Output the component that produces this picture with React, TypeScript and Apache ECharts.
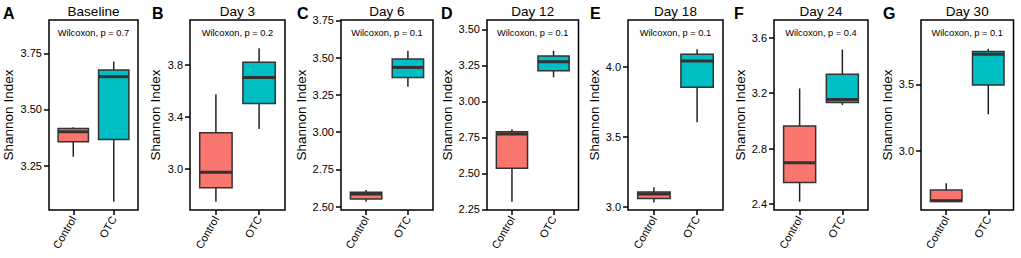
import React, { useEffect, useRef } from "react";
import * as echarts from "echarts";

const categories = ["Control", "OTC"];
const panelLetters = ["A", "B", "C", "D", "E", "F", "G"];
const panelTitles = ["Baseline", "Day 3", "Day 6", "Day 12", "Day 18", "Day 24", "Day 30"];
const pValues = ["0.7", "0.2", "0.1", "0.1", "0.1", "0.4", "0.1"];

// [min, Q1, median, Q3, max]
const controlStats = [
  [3.29, 3.357, 3.401, 3.416, 3.421],
  [2.745, 2.853, 2.972, 3.277, 3.574],
  [2.534, 2.552, 2.585, 2.597, 2.612],
  [2.303, 2.535, 2.773, 2.789, 2.806],
  [3.029, 3.059, 3.091, 3.105, 3.139],
  [2.417, 2.556, 2.698, 2.964, 3.234],
  [2.62, 2.622, 2.628, 2.707, 2.758],
];
const otcStats = [
  [3.09, 3.367, 3.646, 3.676, 3.713],
  [3.306, 3.504, 3.705, 3.821, 3.929],
  [3.304, 3.367, 3.434, 3.49, 3.546],
  [3.167, 3.213, 3.275, 3.315, 3.351],
  [3.602, 3.853, 4.041, 4.089, 4.124],
  [3.114, 3.133, 3.155, 3.337, 3.515],
  [3.275, 3.495, 3.725, 3.745, 3.765],
];

const yTicks = [
  [3.25, 3.5, 3.75],
  [3.0, 3.4, 3.8],
  [2.5, 2.75, 3.0, 3.25, 3.5, 3.75],
  [2.25, 2.5, 2.75, 3.0, 3.25, 3.5],
  [3.0, 3.5, 4.0],
  [2.4, 2.8, 3.2, 3.6],
  [3.0, 3.5],
];
const yDecimals = [2, 1, 2, 2, 1, 1, 1];
const yMins = [3.053, 2.681, 2.478, 2.245, 2.976, 2.357, 2.558];
const yMaxs = [3.898, 4.148, 3.752, 3.565, 4.333, 3.728, 3.982];

// layout (pixels)
const gridLeft = [49, 190, 341, 487, 628, 774, 921];
const gridWidth = [89, 95, 92, 91.5, 95, 94, 92.5];
const nameGaps = [34, 28, 32, 32, 26, 26, 25];
const letterX = [3, 152, 297, 441, 590, 734, 883];
const GRID_TOP = 20;
const GRID_H = 190;

const boxColors = ["#F8766D", "#00BFC4"];
const FONT = "'Liberation Sans', Arial, Helvetica, sans-serif";

export default function App() {
  const ref = useRef<HTMLDivElement>(null);
  useEffect(() => {
    if (!ref.current) return;
    const chart = echarts.init(ref.current, undefined, { renderer: "svg" });
    const grids: any[] = [];
    const xAxes: any[] = [];
    const yAxes: any[] = [];
    const series: any[] = [];
    const graphics: any[] = [];

    panelTitles.forEach((title, i) => {
      grids.push({
        left: gridLeft[i],
        top: GRID_TOP,
        width: gridWidth[i],
        height: GRID_H,
        show: true,
        borderColor: "#000",
        borderWidth: 1.5,
        backgroundColor: "#fff",
      });
      xAxes.push({
        type: "value",
        gridIndex: i,
        min: 0.4,
        max: 2.6,
        splitLine: { show: false },
        axisLine: { show: false },
        axisTick: { show: true, length: 5, customValues: [1, 2], lineStyle: { color: "#000", width: 1.5 } },
        axisLabel: {
          customValues: [1, 2],
          formatter: (v: number) => categories[Math.round(v) - 1] ?? "",
          rotate: 60,
          margin: 7,
          color: "#000",
          fontSize: 11,
          fontFamily: FONT,
        },
      });
      yAxes.push({
        type: "value",
        gridIndex: i,
        min: yMins[i],
        max: yMaxs[i],
        name: "Shannon Index",
        nameLocation: "middle",
        nameGap: nameGaps[i],
        nameTextStyle: { color: "#000", fontSize: 13.5, fontFamily: FONT },
        splitLine: { show: false },
        axisLine: { show: false },
        axisTick: { show: true, length: 5, customValues: yTicks[i], lineStyle: { color: "#000", width: 1.5 } },
        axisLabel: {
          customValues: yTicks[i],
          formatter: (v: number) => v.toFixed(yDecimals[i]),
          margin: 7,
          color: "#000",
          fontSize: 11,
          fontFamily: FONT,
        },
      });
      series.push({
        type: "custom",
        xAxisIndex: i,
        yAxisIndex: i,
        encode: { x: 0, y: [1, 2, 3, 4, 5] },
        data: [
          [1, ...controlStats[i]],
          [2, ...otcStats[i]],
        ],
        renderItem: (params: any, api: any) => {
          const xv = api.value(0);
          const mn = api.coord([xv, api.value(1)]);
          const q1 = api.coord([xv, api.value(2)]);
          const md = api.coord([xv, api.value(3)]);
          const q3 = api.coord([xv, api.value(4)]);
          const mx = api.coord([xv, api.value(5)]);
          const w = api.size([0.75, 0])[0];
          const cx = q1[0];
          const lineStyle = { stroke: "#222", lineWidth: 1.5 };
          return {
            type: "group",
            children: [
              { type: "line", shape: { x1: cx, y1: q3[1], x2: cx, y2: mx[1] }, style: lineStyle },
              { type: "line", shape: { x1: cx, y1: q1[1], x2: cx, y2: mn[1] }, style: lineStyle },
              {
                type: "rect",
                shape: { x: cx - w / 2, y: q3[1], width: w, height: q1[1] - q3[1] },
                style: { fill: boxColors[params.dataIndex], stroke: "#333", lineWidth: 1.5 },
              },
              {
                type: "line",
                shape: { x1: cx - w / 2, y1: md[1], x2: cx + w / 2, y2: md[1] },
                style: { stroke: "#333", lineWidth: 3 },
              },
            ],
          };
        },
      });
      const cxPlot = gridLeft[i] + gridWidth[i] / 2;
      graphics.push({
        type: "text",
        x: cxPlot,
        y: 11,
        style: {
          text: title,
          fill: "#000",
          font: `13.5px ${FONT}`,
          textAlign: "center",
          textVerticalAlign: "middle",
        },
      });
      graphics.push({
        type: "text",
        x: letterX[i],
        y: 13,
        style: {
          text: panelLetters[i],
          fill: "#000",
          font: `bold 16px ${FONT}`,
          textAlign: "left",
          textVerticalAlign: "middle",
        },
      });
      graphics.push({
        type: "text",
        x: cxPlot,
        y: 33,
        z: 10,
        style: {
          text: `Wilcoxon, p = ${pValues[i]}`,
          fill: "#000",
          font: `9.3px ${FONT}`,
          textAlign: "center",
          textVerticalAlign: "middle",
        },
      });
    });

    chart.setOption({
      animation: false,
      backgroundColor: "#fff",
      grid: grids,
      xAxis: xAxes,
      yAxis: yAxes,
      series,
      graphic: graphics,
    });
    return () => chart.dispose();
  }, []);
  return (
    <div
      ref={ref}
      style={{ position: "fixed", left: 0, top: 0, width: 1021, height: 258 }}
    />
  );
}
